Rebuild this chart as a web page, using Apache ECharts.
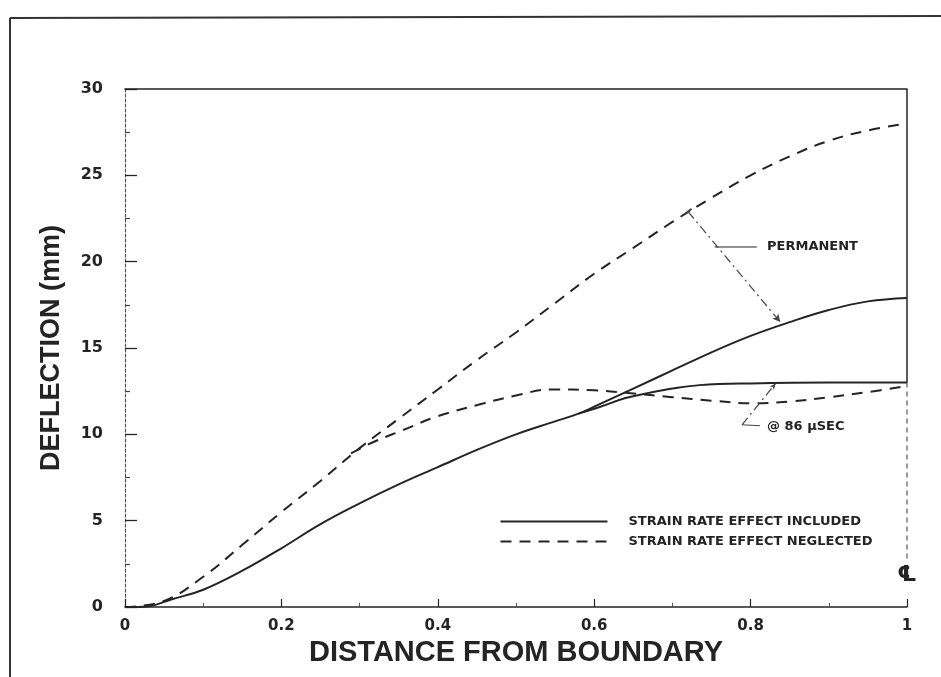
<!DOCTYPE html>
<html>
<head>
<meta charset="utf-8">
<script src="https://cdn.jsdelivr.net/npm/echarts@6/dist/echarts.min.js"></script>
<style>
  html, body { margin: 0; padding: 0; background: #fff; }
  #chart { width: 941px; height: 677px; }
</style>
</head>
<body>
<div id="chart"></div>
<script>
// Deflection profiles across the plate, boundary (0) to centre line (1), in mm.
const xTicks = [0, 0.2, 0.4, 0.6, 0.8, 1];
const yTicks = [0, 5, 10, 15, 20, 25, 30];

// Strain rate effect included: permanent profile and the branch at 86 microseconds
const includedPermanent = [
  [0, 0], [0.03, 0.05], [0.06, 0.45], [0.1, 1.0], [0.15, 2.1], [0.2, 3.4],
  [0.25, 4.8], [0.3, 6.0], [0.35, 7.1], [0.4, 8.1], [0.45, 9.1], [0.5, 10.0],
  [0.55, 10.75], [0.58, 11.2], [0.6, 11.6], [0.65, 12.65], [0.7, 13.7],
  [0.75, 14.75], [0.8, 15.7], [0.85, 16.5], [0.9, 17.2], [0.95, 17.7], [1, 17.9]
];
const included86us = [
  [0.58, 11.2], [0.607, 11.58], [0.64, 12.1], [0.67, 12.4], [0.7, 12.65],
  [0.735, 12.85], [0.8, 12.95], [0.9, 13.0], [1, 13.0]
];

// Strain rate effect neglected: permanent profile and the branch at 86 microseconds
const neglectedPermanent = [
  [0, 0], [0.05, 0.35], [0.1, 1.75], [0.15, 3.6], [0.2, 5.5], [0.25, 7.3],
  [0.3, 9.2], [0.35, 10.9], [0.4, 12.6], [0.45, 14.3], [0.5, 15.9], [0.55, 17.6],
  [0.6, 19.3], [0.65, 20.8], [0.7, 22.3], [0.75, 23.7], [0.8, 25.0], [0.85, 26.1],
  [0.9, 27.0], [0.95, 27.6], [1, 28.0]
];
const neglected86us = [
  [0.289, 8.9], [0.32, 9.6], [0.353, 10.2], [0.4, 11.05], [0.459, 11.8],
  [0.5, 12.25], [0.545, 12.6], [0.6, 12.55], [0.643, 12.4], [0.7, 12.15],
  [0.75, 11.95], [0.8, 11.8], [0.85, 11.9], [0.9, 12.15], [0.95, 12.45], [1, 12.8]
];

// Annotation geometry in data units
const permanentArrow = [[0.72, 22.9], [0.838, 16.5]];
const permanentLeader = [[0.754, 20.85], [0.808, 20.85]];
const permanentLabel = [0.821, 20.85];
const transientLeader = [[0.789, 10.55], [0.812, 10.5]];
const transientPointer = [[0.789, 10.55], [0.832, 12.95]];
const transientLabel = [0.821, 10.45];
const centreSolid = [[1, 30], [1, 13]];
const centreDashed = [[1, 13], [1, 2.7]];
const centreMark = [1, 1.85];

const legendNames = ['STRAIN RATE EFFECT INCLUDED', 'STRAIN RATE EFFECT NEGLECTED'];
const labelTexts = { permanent: 'PERMANENT', transient: '@ 86 \u03bcSEC', centre: '\u2104' };

const ink = '#242424';
const tickFont = 'DejaVu Sans';
const titleFont = 'Liberation Sans';
const solidDash = 'solid';
const curveDash = [11, 8];

const chart = echarts.init(document.getElementById('chart'), null, { renderer: 'canvas' });

const curveStyle = (dashed) => ({
  color: ink,
  width: 2,
  type: dashed ? curveDash : solidDash
});

const noteLabel = (pos, text) => ({
  type: 'scatter',
  data: [pos],
  symbolSize: 0,
  silent: true,
  z: 5,
  itemStyle: { opacity: 1, color: ink },
  label: {
    show: true,
    position: 'right',
    distance: 0,
    formatter: text,
    color: ink,
    fontFamily: tickFont,
    fontWeight: 'bold',
    fontSize: 13
  }
});

// Key drawn as a small graphic block: sample stroke followed by its caption
const legendRow = (top, dashed, text) => ({
  type: 'group',
  left: 498,
  top: top,
  children: [
    {
      type: 'line',
      shape: { x1: 0, y1: 7, x2: 107, y2: 7 },
      style: { stroke: ink, lineWidth: 2, lineDash: dashed ? curveDash : null }
    },
    {
      type: 'text',
      x: 128,
      y: 7,
      style: {
        text: text, fill: ink, font: 'bold 13px "DejaVu Sans"',
        textVerticalAlign: 'middle', verticalAlign: 'middle'
      }
    }
  ]
});

const option = {
  backgroundColor: '#fff',
  animation: false,
  grid: { left: 125, right: 34, top: 89, bottom: 70, containLabel: false, outerBoundsMode: 'none' },
  xAxis: [{
    type: 'value',
    min: xTicks[0],
    max: xTicks[xTicks.length - 1],
    interval: xTicks[1] - xTicks[0],
    name: 'DISTANCE FROM BOUNDARY',
    nameLocation: 'middle',
    nameGap: 30,
    nameTextStyle: { color: ink, fontFamily: titleFont, fontWeight: 'bold', fontSize: 29 },
    axisLine: { show: true, lineStyle: { color: ink, width: 1.5 } },
    axisTick: { show: true, inside: true, length: 8, lineStyle: { color: ink, width: 1.2 } },
    minorTick: { show: true, splitNumber: 2, length: 4, lineStyle: { color: '#555', width: 1 } },
    axisLabel: { color: ink, fontFamily: tickFont, fontWeight: 'bold', fontSize: 15, margin: 12 },
    splitLine: { show: false }
  }, {
    type: 'value',
    position: 'top',
    min: xTicks[0],
    max: xTicks[xTicks.length - 1],
    axisLine: { show: true, onZero: false, lineStyle: { color: ink, width: 1.5 } },
    axisTick: { show: false },
    axisLabel: { show: false },
    splitLine: { show: false }
  }],
  yAxis: {
    type: 'value',
    min: yTicks[0],
    max: yTicks[yTicks.length - 1],
    interval: yTicks[1] - yTicks[0],
    name: 'DEFLECTION (mm)',
    nameLocation: 'middle',
    nameGap: 60,
    nameTextStyle: { color: ink, fontFamily: titleFont, fontWeight: 'bold', fontSize: 27 },
    axisLine: { show: true, lineStyle: { color: '#555', width: 1.2, type: [3, 2] } },
    axisTick: { show: true, inside: true, length: 12, lineStyle: { color: ink, width: 1.3 } },
    minorTick: { show: true, splitNumber: 2, length: 5, lineStyle: { color: '#444', width: 1.2 } },
    axisLabel: { color: ink, fontFamily: tickFont, fontWeight: 'bold', fontSize: 16, margin: 22 },
    splitLine: { show: false }
  },
  series: [
    {
      name: legendNames[0], type: 'line', data: includedPermanent, smooth: 0.4,
      symbol: 'none', lineStyle: curveStyle(false), itemStyle: { color: ink }, z: 3
    },
    {
      name: legendNames[0], type: 'line', data: included86us, smooth: 0.4,
      symbol: 'none', lineStyle: curveStyle(false), itemStyle: { color: ink }, z: 3
    },
    {
      name: legendNames[1], type: 'line', data: neglectedPermanent, smooth: 0.4,
      symbol: 'none', lineStyle: curveStyle(true), itemStyle: { color: ink }, z: 3
    },
    {
      name: legendNames[1], type: 'line', data: neglected86us, smooth: 0.4,
      symbol: 'none', lineStyle: curveStyle(true), itemStyle: { color: ink }, z: 3
    },
    {
      // leader to the PERMANENT note, carrying the pointers
      type: 'line', data: permanentLeader, symbol: 'none', silent: true,
      lineStyle: { color: ink, width: 1 }, z: 4,
      markLine: {
        silent: true,
        animation: false,
        label: { show: false },
        data: [
          [
            { coord: permanentArrow[0], symbol: 'rect', symbolSize: [9, 2] },
            { coord: permanentArrow[1], symbol: 'arrow', symbolSize: [6, 8] }
          ],
          [
            { coord: transientPointer[0], symbol: 'none' },
            { coord: transientPointer[1], symbol: 'arrow', symbolSize: [4, 6] }
          ]
        ],
        lineStyle: { color: '#444', width: 1.2, type: [9, 4, 2, 4] }
      }
    },
    {
      type: 'line', data: transientLeader, symbol: 'none', silent: true,
      lineStyle: { color: '#444', width: 1 }, z: 4
    },
    {
      // centre line of the plate
      type: 'line', data: centreSolid, symbol: 'none', silent: true,
      lineStyle: { color: ink, width: 1.5 }, z: 2
    },
    {
      type: 'line', data: centreDashed, symbol: 'none', silent: true,
      lineStyle: { color: '#555', width: 1.2, type: [5, 4] }, z: 2
    },
    noteLabel(permanentLabel, labelTexts.permanent),
    noteLabel(transientLabel, labelTexts.transient),
    {
      type: 'scatter', data: [centreMark], symbolSize: 0, silent: true, z: 5,
      itemStyle: { opacity: 1, color: ink },
      label: {
        show: true, position: 'inside', formatter: labelTexts.centre,
        color: ink, fontFamily: tickFont, fontWeight: 'bold', fontSize: 22
      }
    }
  ],
  graphic: [
    // page frame (top and left rules)
    { type: 'line', shape: { x1: 10, y1: 18, x2: 941, y2: 16 }, style: { stroke: '#333', lineWidth: 2 } },
    { type: 'line', shape: { x1: 10, y1: 18, x2: 10, y2: 677 }, style: { stroke: '#333', lineWidth: 2 } },
    legendRow(515, false, legendNames[0]),
    legendRow(535, true, legendNames[1])
  ]
};

chart.setOption(option);
</script>
</body>
</html>
